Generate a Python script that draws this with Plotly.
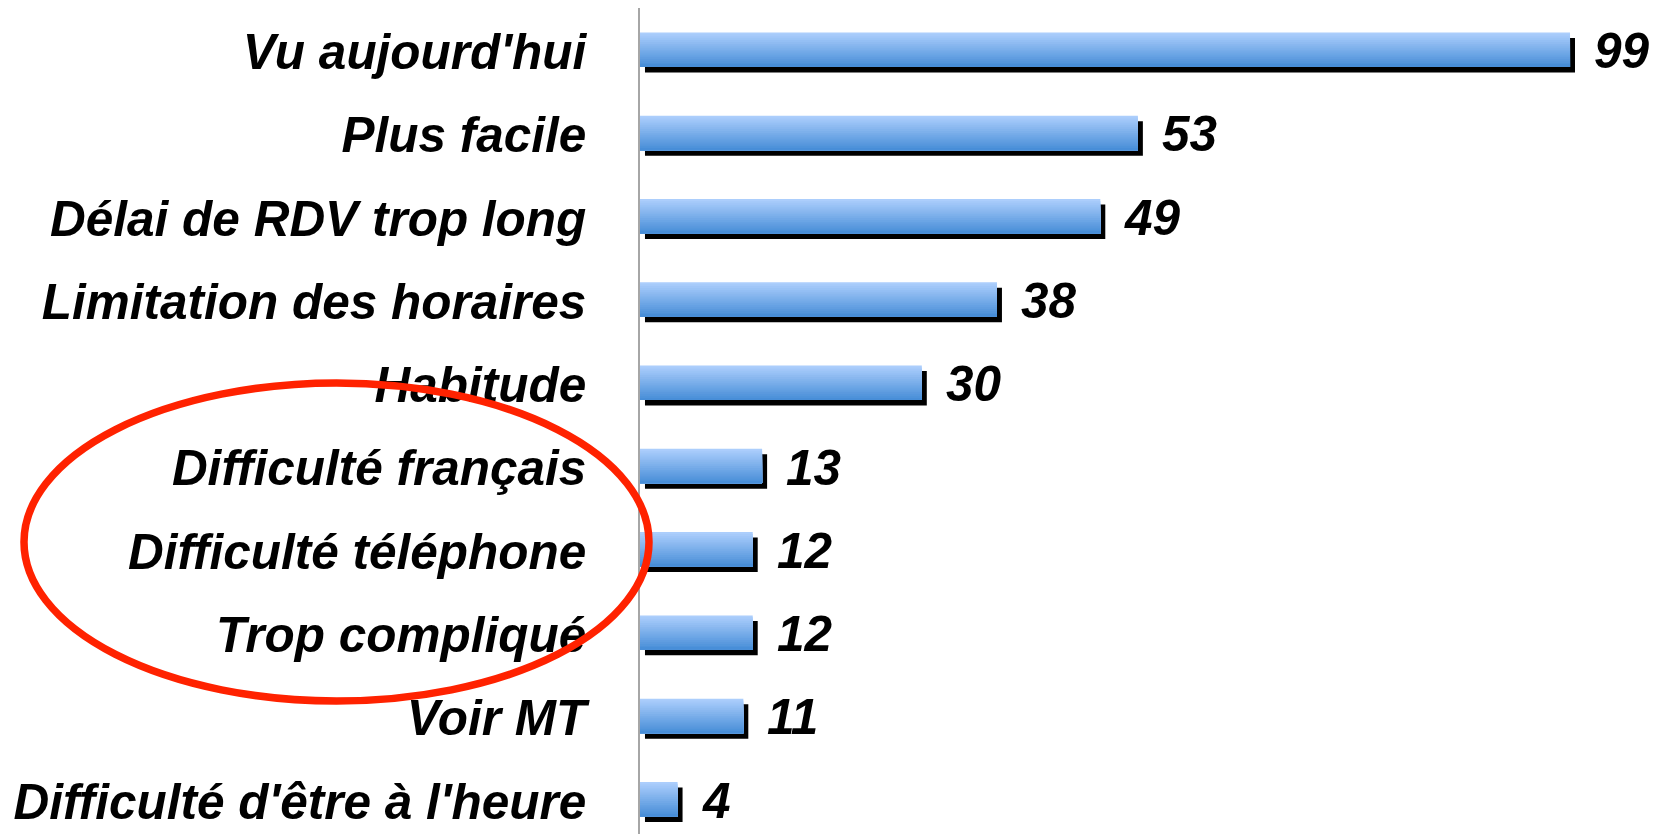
import plotly.graph_objects as go

categories = [
    "Vu aujourd'hui",
    "Plus facile",
    "Délai de RDV trop long",
    "Limitation des horaires",
    "Habitude",
    "Difficulté français",
    "Difficulté téléphone",
    "Trop compliqué",
    "Voir MT",
    "Difficulté d'être à l'heure",
]
values = [99, 53, 49, 38, 30, 13, 12, 12, 11, 4]

W, H = 1654, 834
ML, MR, MT, MB = 640, 0, 8, 0
XMAX = 107.94
YRANGE = [9.418, -0.5]
BAR_W = 0.414
N_STRIPS = 18
TOP_RGB = (172, 206, 252)
BOT_RGB = (72, 142, 216)
SHADOW_DX = 0.53
SHADOW_DY = 0.066

pos = list(range(len(categories)))

fig = go.Figure()

# shadow
fig.add_trace(go.Bar(
    orientation="h",
    y=[p + SHADOW_DY for p in pos],
    x=values,
    base=[SHADOW_DX] * len(values),
    width=BAR_W,
    marker=dict(color="black", line=dict(width=0)),
    hoverinfo="skip",
    showlegend=False,
))

# gradient bars (overlapping strips, top light -> bottom dark)
for k in range(N_STRIPS):
    t = k / (N_STRIPS - 1)
    c = tuple(round(TOP_RGB[i] + (BOT_RGB[i] - TOP_RGB[i]) * t) for i in range(3))
    off = -BAR_W / 2 + k * BAR_W / N_STRIPS
    fig.add_trace(go.Bar(
        orientation="h",
        y=pos,
        x=values,
        width=BAR_W - k * BAR_W / N_STRIPS,
        offset=off,
        marker=dict(color="rgb(%d,%d,%d)" % c, line=dict(width=0)),
        hoverinfo="skip",
        showlegend=False,
    ))

label_font = dict(family="Liberation Sans, Arial, sans-serif", size=49.5,
                  color="black", weight="bold", style="italic")

for p, v in zip(pos, values):
    fig.add_annotation(
        x=v, y=p, xref="x", yref="y",
        text=str(v), showarrow=False,
        xanchor="left", yanchor="middle", xshift=22, yshift=-1,
        font=label_font,
    )

plot_w = W - ML - MR
plot_h = H - MT - MB

def px_to_paper_x(px):
    return (px - ML) / plot_w

def px_to_paper_y(py):
    return 1 - (py - MT) / plot_h

fig.add_shape(
    type="circle", xref="paper", yref="paper",
    x0=px_to_paper_x(24), x1=px_to_paper_x(649),
    y0=px_to_paper_y(701), y1=px_to_paper_y(383),
    line=dict(color="rgb(255,34,0)", width=7.5),
    layer="above",
)

fig.update_layout(
    width=W, height=H,
    margin=dict(l=ML, r=MR, t=MT, b=MB, pad=0),
    barmode="overlay",
    plot_bgcolor="white",
    paper_bgcolor="white",
    showlegend=False,
    xaxis=dict(range=[0, XMAX], showgrid=False, zeroline=False,
               showticklabels=False, showline=False, ticks=""),
    yaxis=dict(range=YRANGE, showgrid=False, zeroline=False,
               tickmode="array", tickvals=pos, ticktext=categories,
               tickfont=label_font, ticks="", ticklabelstandoff=42,
               ticklabelshift=-2,
               showline=True, linecolor="#A6A6A6", linewidth=1.5),
)

fig.write_html(
    "out.html",
    config={"displayModeBar": False},
    post_script="document.body.style.margin='0';document.body.style.overflow='hidden';",
)
